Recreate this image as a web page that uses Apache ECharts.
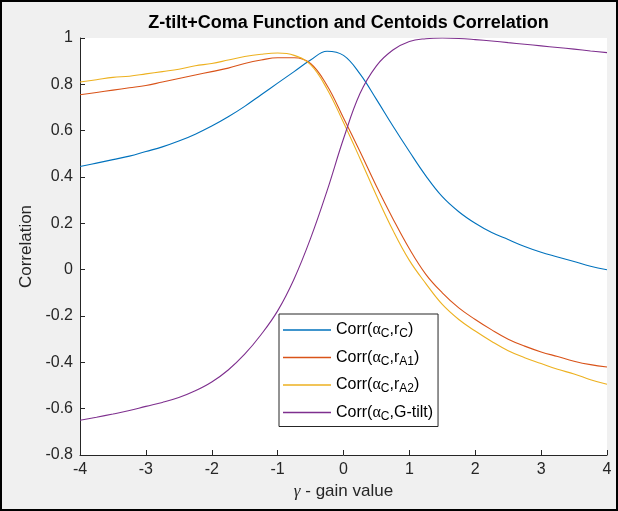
<!DOCTYPE html>
<html>
<head>
<meta charset="utf-8">
<script src="https://cdn.jsdelivr.net/npm/echarts@6/dist/echarts.min.js"></script>
<style>
  html, body { margin: 0; padding: 0; background: #f0f0f0; }
  #chart { width: 618px; height: 511px; }
</style>
</head>
<body>
<div id="chart"></div>
<script>
// Gain values (gamma) at which the correlations were evaluated
const gammaValues = [-4, -3.75, -3.5, -3.25, -3, -2.75, -2.5, -2.25, -2, -1.75, -1.5, -1.25, -1, -0.75, -0.5, -0.25,
  0, 0.25, 0.5, 0.75, 1, 1.25, 1.5, 1.75, 2, 2.25, 2.5, 2.75, 3, 3.25, 3.5, 3.75, 4];

// Corr(alpha_C, r_C)
const corrRC = [0.445, 0.46, 0.475, 0.49, 0.51, 0.53, 0.555, 0.585, 0.62, 0.66, 0.705, 0.755, 0.805, 0.855, 0.905, 0.943,
  0.925, 0.845, 0.735, 0.62, 0.51, 0.405, 0.315, 0.25, 0.2, 0.16, 0.13, 0.10, 0.075, 0.055, 0.035, 0.015, 0.0];

// Corr(alpha_C, r_A1)
const corrRA1 = [0.755, 0.765, 0.775, 0.785, 0.795, 0.81, 0.825, 0.84, 0.855, 0.87, 0.89, 0.905, 0.915, 0.915, 0.89, 0.795,
  0.655, 0.51, 0.36, 0.22, 0.09, -0.02, -0.10, -0.165, -0.215, -0.26, -0.30, -0.33, -0.355, -0.375, -0.395, -0.41, -0.42];

// Corr(alpha_C, r_A2)
const corrRA2 = [0.81, 0.82, 0.83, 0.835, 0.845, 0.855, 0.865, 0.88, 0.89, 0.905, 0.92, 0.93, 0.935, 0.925, 0.885, 0.78,
  0.635, 0.48, 0.32, 0.17, 0.04, -0.06, -0.15, -0.215, -0.265, -0.31, -0.35, -0.38, -0.405, -0.43, -0.45, -0.475, -0.495];

// Corr(alpha_C, G-tilt)
const corrGTilt = [-0.65, -0.637, -0.623, -0.608, -0.59, -0.573, -0.552, -0.523, -0.485, -0.433, -0.365, -0.28, -0.178, -0.04, 0.135, 0.34,
  0.565, 0.76, 0.88, 0.948, 0.985, 0.997, 1.0, 0.998, 0.993, 0.987, 0.98, 0.973, 0.966, 0.959, 0.952, 0.944, 0.937];

// Axis tick settings: [min, max, step]
const xTickRange = [-4, 4, 1];
const yTickRange = [-0.8, 1, 0.2];

const seriesNames = ['Corr(αC,rC)', 'Corr(αC,rA1)', 'Corr(αC,rA2)', 'Corr(αC,G-tilt)'];
const seriesValues = [corrRC, corrRA1, corrRA2, corrGTilt];
const seriesColors = ['#0072BD', '#D95319', '#EDB120', '#7E2F8E'];

// Legend entries with TeX-like subscripts
const legendRich = {
  'Corr(αC,rC)': '{t|Corr(}{g|α}{s|C}{t|,r}{s|C}{t|)}',
  'Corr(αC,rA1)': '{t|Corr(}{g|α}{s|C}{t|,r}{s|A1}{t|)}',
  'Corr(αC,rA2)': '{t|Corr(}{g|α}{s|C}{t|,r}{s|A2}{t|)}',
  'Corr(αC,G-tilt)': '{t|Corr(}{g|α}{s|C}{t|,G-tilt)}'
};

const FONT = '"Liberation Sans", Arial, Helvetica, sans-serif';
const SERIF = '"Liberation Serif", "Times New Roman", serif';
const INK = '#262626';

const chart = echarts.init(document.getElementById('chart'), null, { renderer: 'canvas' });

const option = {
  backgroundColor: '#f0f0f0',
  animation: false,
  title: {
    text: 'Z-tilt+Coma Function and Centoids Correlation',
    left: 343.5,
    top: 9,
    textAlign: 'center',
    textStyle: { fontFamily: FONT, fontSize: 18, fontWeight: 'bold', color: '#000' }
  },
  grid: {
    left: 80, right: 11, top: 38, bottom: 56,
    show: true, backgroundColor: '#ffffff', borderWidth: 0,
    containLabel: false
  },
  legend: {
    orient: 'vertical',
    left: 279,
    top: 314,
    padding: [8, 5, 4, 4],
    itemGap: 9.5,
    itemWidth: 48,
    itemHeight: 1.3,
    icon: 'rect',
    backgroundColor: '#ffffff',
    borderColor: INK,
    borderWidth: 1,
    borderRadius: 0,
    data: seriesNames,
    formatter: name => legendRich[name],
    textStyle: {
      color: '#000',
      rich: {
        t: { fontFamily: FONT, fontSize: 16, color: '#000', lineHeight: 20 },
        g: { fontFamily: SERIF, fontSize: 16, color: '#000', lineHeight: 20 },
        s: { fontFamily: FONT, fontSize: 12, color: '#000', lineHeight: 12, verticalAlign: 'bottom' }
      }
    }
  },
  xAxis: {
    type: 'value',
    min: xTickRange[0], max: xTickRange[1], interval: xTickRange[2],
    name: '{g|γ} - gain value',
    nameLocation: 'middle',
    nameGap: 27,
    nameTextStyle: {
      fontFamily: FONT, fontSize: 17, color: INK,
      rich: {
        g: { fontFamily: SERIF, fontStyle: 'italic', fontSize: 17, color: INK }
      }
    },
    axisLine: { show: true, onZero: false, lineStyle: { color: INK, width: 1 } },
    axisTick: { show: true, inside: true, length: 5, lineStyle: { color: INK } },
    axisLabel: { fontFamily: FONT, fontSize: 16, color: INK, margin: 7 },
    splitLine: { show: false }
  },
  yAxis: {
    type: 'value',
    min: yTickRange[0], max: yTickRange[1], interval: yTickRange[2],
    name: 'Correlation',
    nameLocation: 'middle',
    nameGap: 43,
    nameTextStyle: { fontFamily: FONT, fontSize: 17, color: INK },
    axisLine: { show: true, onZero: false, lineStyle: { color: INK, width: 1 } },
    axisTick: { show: true, inside: true, length: 5, lineStyle: { color: INK } },
    axisLabel: {
      fontFamily: FONT, fontSize: 16, color: INK, margin: 7,
      formatter: v => String(Math.round(v * 10) / 10)
    },
    splitLine: { show: false }
  },
  graphic: [{
    type: 'rect',
    silent: true,
    z: 100,
    shape: { x: 1, y: 1, width: 616, height: 509 },
    style: { fill: 'none', stroke: '#000', lineWidth: 2 }
  }],
  series: seriesNames.map((name, i) => ({
    name,
    type: 'line',
    data: gammaValues.map((g, k) => [g, seriesValues[i][k]]),
    smooth: 0.4,
    showSymbol: false,
    symbol: 'none',
    color: seriesColors[i],
    lineStyle: { color: seriesColors[i], width: 1.1 }
  }))
};

chart.setOption(option);
</script>
</body>
</html>
